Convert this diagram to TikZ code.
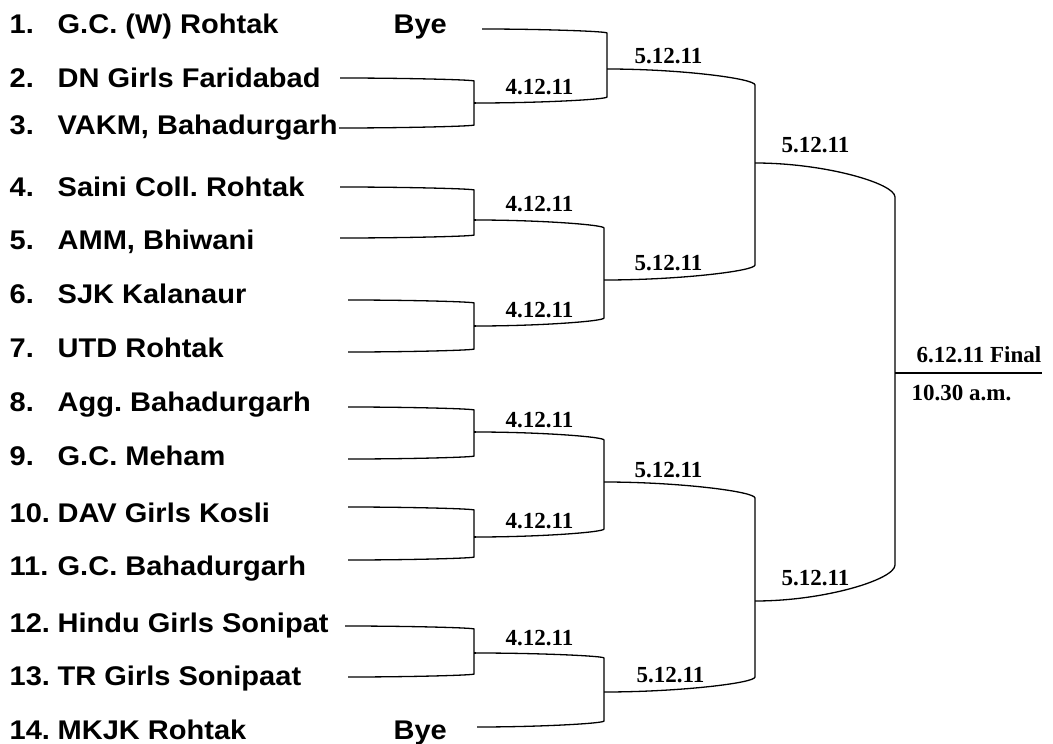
\documentclass[tikz,border=0pt]{standalone}
\usepackage{fontspec}
\setmainfont{Liberation Serif}
\newfontfamily\teamfont{Liberation Sans}[UprightFont=* Bold, FakeStretch=1.075]
\newfontfamily\datefont{Liberation Serif}[UprightFont=* Bold]
\usetikzlibrary{calc}
\frenchspacing
\begin{document}
\begin{tikzpicture}[x=1pt,y=-1pt,line width=1.3pt,
  team/.style={anchor=base west,inner sep=0pt,font=\teamfont\fontsize{27}{27}\selectfont\frenchspacing},
  datelbl/.style={anchor=base west,inner sep=0pt,font=\datefont\fontsize{23}{23}\selectfont\frenchspacing},
  hin/.style={to path={.. controls ($(\tikztostart)!.5!(\tikztotarget |- \tikztostart)$) and ($(\tikztotarget)!.4!(\tikztotarget |- \tikztostart)$) .. (\tikztotarget) \tikztonodes}},
  hout/.style={to path={.. controls ($(\tikztostart)!.4!(\tikztostart |- \tikztotarget)$) and ($(\tikztotarget)!.5!(\tikztostart |- \tikztotarget)$) .. (\tikztotarget) \tikztonodes}},
  finalline/.style={line width=2.7pt}]
\fill[white] (0,0) rectangle (1053,744);
\useasboundingbox (0,0) rectangle (1053,744);

% team list
\node[team] (n1)  at (9,34)    {1.};  \node[team] (t1)  at (57,34)    {G.C. (W) Rohtak};
\node[team] (n2)  at (9,87)    {2.};  \node[team] (t2)  at (57,87)    {DN Girls Faridabad};
\node[team] (n3)  at (9,134.5) {3.};  \node[team] (t3)  at (57,134.5) {VAKM, Bahadurgarh};
\node[team] (n4)  at (9,196)   {4.};  \node[team] (t4)  at (57,196)   {Saini Coll. Rohtak};
\node[team] (n5)  at (9,249)   {5.};  \node[team] (t5)  at (57,249)   {AMM, Bhiwani};
\node[team] (n6)  at (9,303)   {6.};  \node[team] (t6)  at (57,303)   {SJK Kalanaur};
\node[team] (n7)  at (9,357.5) {7.};  \node[team] (t7)  at (57,357.5) {UTD Rohtak};
\node[team] (n8)  at (9,411.5) {8.};  \node[team] (t8)  at (57,411.5) {Agg. Bahadurgarh};
\node[team] (n9)  at (9,465.5) {9.};  \node[team] (t9)  at (57,465.5) {G.C. Meham};
\node[team] (n10) at (9,522)   {10.}; \node[team] (t10) at (57,522)   {DAV Girls Kosli};
\node[team] (n11) at (9,575.5) {11.}; \node[team] (t11) at (57,575.5) {G.C. Bahadurgarh};
\node[team] (n12) at (9,632.5) {12.}; \node[team] (t12) at (57,632.5) {Hindu Girls Sonipat};
\node[team] (n13) at (9,685.5) {13.}; \node[team] (t13) at (57,685.5) {TR Girls Sonipaat};
\node[team] (n14) at (9,739.5) {14.}; \node[team] (t14) at (57,739.5) {MKJK Rohtak};
\node[team] (bye1)  at (393,34)  {Bye};
\node[team] (bye14) at (393,739.5) {Bye};

% line starts (round 1)
\coordinate (s2) at (340,78);   \coordinate (c2) at (474,81);
\coordinate (s3) at (339,128);  \coordinate (c3) at (474,125);
\coordinate (s4) at (340,187);  \coordinate (c4) at (474,190);
\coordinate (s5) at (340,238);  \coordinate (c5) at (474,235);
\coordinate (s6) at (348,300);  \coordinate (c6) at (474,303);
\coordinate (s7) at (348,352);  \coordinate (c7) at (474,349);
\coordinate (s8) at (348,407);  \coordinate (c8) at (474,410);
\coordinate (s9) at (348,459);  \coordinate (c9) at (474,456);
\coordinate (s10) at (348,507); \coordinate (c10) at (474,510);
\coordinate (s11) at (348,560); \coordinate (c11) at (474,557);
\coordinate (s12) at (345,626); \coordinate (c12) at (474,629);
\coordinate (s13) at (348,677); \coordinate (c13) at (474,674);

% round 1 outputs / byes
\coordinate (b1) at (482,29);
\coordinate (o23) at (476,103);
\coordinate (o45) at (476,220);
\coordinate (o67) at (476,326);
\coordinate (o89) at (476,432);
\coordinate (o1011) at (476,537);
\coordinate (o1213) at (476,653);
\coordinate (b14) at (477,727);

% round 2 corners
\coordinate (ca1) at (607,33);  \coordinate (ca2) at (607,97);
\coordinate (cb1) at (604,228); \coordinate (cb2) at (604,318);
\coordinate (cc1) at (604,440); \coordinate (cc2) at (604,529);
\coordinate (cd1) at (604,658); \coordinate (cd2) at (604,721);
% round 2 outputs
\coordinate (oa) at (607,69);
\coordinate (ob) at (604,280);
\coordinate (oc) at (604,482);
\coordinate (od) at (604,692);
% round 3
\coordinate (ce1) at (755,85);  \coordinate (ce2) at (755,265);
\coordinate (cf1) at (755,498); \coordinate (cf2) at (755,677);
\coordinate (oe) at (755,163);
\coordinate (of) at (755,601);
% final
\coordinate (cg1) at (895,197); \coordinate (cg2) at (895,565);
\coordinate (fs) at (895,373);  \coordinate (fe) at (1042,373);

% round 1 brackets
\draw (s2) to[hin] (c2) -- (c3) to[hout] (s3);
\draw (s4) to[hin] (c4) -- (c5) to[hout] (s5);
\draw (s6) to[hin] (c6) -- (c7) to[hout] (s7);
\draw (s8) to[hin] (c8) -- (c9) to[hout] (s9);
\draw (s10) to[hin] (c10) -- (c11) to[hout] (s11);
\draw (s12) to[hin] (c12) -- (c13) to[hout] (s13);
% connecting stubs round1 -> outputs
\draw (c2 |- o23) -- (o23);
\draw (c4 |- o45) -- (o45);
\draw (c6 |- o67) -- (o67);
\draw (c8 |- o89) -- (o89);
\draw (c10 |- o1011) -- (o1011);
\draw (c12 |- o1213) -- (o1213);

% round 2 brackets
\draw (b1) to[hin] (ca1) -- (ca2) to[hout] (o23);
\draw (o45) to[hin] (cb1) -- (cb2) to[hout] (o67);
\draw (o89) to[hin] (cc1) -- (cc2) to[hout] (o1011);
\draw (o1213) to[hin] (cd1) -- (cd2) to[hout] (b14);

% round 3 brackets
\draw (oa) to[hin] (ce1) -- (ce2) to[hout] (ob);
\draw (oc) to[hin] (cf1) -- (cf2) to[hout] (od);

% final bracket
\draw (oe) to[hin] (cg1) -- (cg2) to[hout] (of);
\draw[finalline] (fs) -- (fe);

% date labels
\node[datelbl] (d23)   at (505,94)  {4.12.11};
\node[datelbl] (d45)   at (505,211) {4.12.11};
\node[datelbl] (d67)   at (505,317) {4.12.11};
\node[datelbl] (d89)   at (505,427) {4.12.11};
\node[datelbl] (d1011) at (505,528) {4.12.11};
\node[datelbl] (d1213) at (505,645) {4.12.11};
\node[datelbl] (da) at (634,63)  {5.12.11};
\node[datelbl] (db) at (634,270) {5.12.11};
\node[datelbl] (dc) at (634,477) {5.12.11};
\node[datelbl] (dd) at (636,682) {5.12.11};
\node[datelbl] (de) at (781,152) {5.12.11};
\node[datelbl] (df) at (781,585) {5.12.11};
\node[datelbl] (fin)  at (916,362) {6.12.11 Final};
\node[datelbl] (time) at (911,400) {10.30 a.m.};
\end{tikzpicture}
\end{document}
